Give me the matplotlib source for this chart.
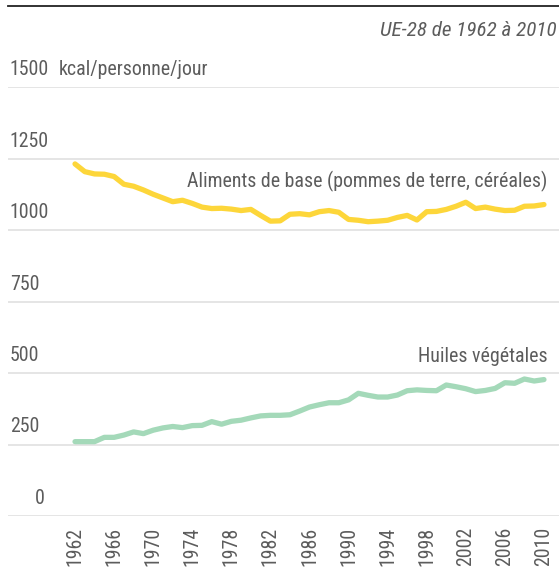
import matplotlib
matplotlib.use("Agg")
import matplotlib.pyplot as plt
import matplotlib.transforms as mtransforms

years = list(range(1962, 2011))
base_foods = [1231, 1204, 1196, 1195, 1187, 1160, 1153, 1140, 1125, 1112,
              1099, 1104, 1093, 1080, 1075, 1076, 1073, 1068, 1072, 1051,
              1031, 1032, 1055, 1057, 1053, 1064, 1068, 1062, 1037, 1034,
              1029, 1031, 1034, 1044, 1051, 1035, 1064, 1065, 1072, 1083,
              1097, 1075, 1080, 1073, 1068, 1069, 1083, 1084, 1089]
veg_oils = [260, 260, 260, 275, 275, 283, 294, 288, 300, 308,
            313, 309, 316, 317, 330, 321, 331, 335, 343, 350,
            352, 352, 354, 367, 381, 389, 396, 396, 406, 429,
            422, 416, 416, 423, 438, 441, 439, 438, 458, 452,
            445, 435, 439, 446, 466, 464, 479, 472, 477]
y_ticks = [0, 250, 500, 750, 1000, 1250, 1500]
x_ticks = list(range(1962, 2011, 4))
unit_label = "kcal/personne/jour"
subtitle = "UE-28 de 1962 à 2010"
label_base = "Aliments de base (pommes de terre, céréales)"
label_oils = "Huiles végétales"

plt.rcParams['font.family'] = ['Roboto Condensed', 'DejaVu Sans']

GRAY = "#5c5c5c"
YELLOW = "#fdd63a"
GREEN = "#a4d9b9"
FS = 14.3

fig = plt.figure(figsize=(5.59, 5.67), dpi=100)
W, H = 559, 567
ax = fig.add_axes([8 / W, (H - 516) / H, 1 - 8 / W, (516 - 87) / H])
ax.set_xlim(1955.14, 2011.54)
ax.set_ylim(0, 1500)
for s in ax.spines.values():
    s.set_visible(False)
ax.set_yticks([])

for v in y_ticks:
    ax.axhline(v, color="#e0e0e0", lw=1.2, zorder=1)

ax.plot(years, base_foods, color=YELLOW, lw=3.8, solid_capstyle="round",
        solid_joinstyle="round", zorder=3, clip_on=False)
ax.plot(years, veg_oils, color=GREEN, lw=3.8, solid_capstyle="round",
        solid_joinstyle="round", zorder=3, clip_on=False)

trans = mtransforms.blended_transform_factory(ax.transAxes, ax.transData)
t = mtransforms.offset_copy(trans, fig=fig, x=0, y=12, units="dots")
for v in y_ticks:
    lab = str(v)
    if v == 0:
        ax.text(0.058, v, lab, transform=t, ha="center", va="baseline",
                fontsize=FS, color=GRAY)
    else:
        ax.text(0.003, v, lab, transform=t, ha="left", va="baseline",
                fontsize=FS, color=GRAY)
ax.text(0.0926, 1500, unit_label, transform=t, ha="left", va="baseline",
        fontsize=FS, color=GRAY)

ax.set_xticks(x_ticks)
ax.set_xticklabels([str(x) for x in x_ticks], rotation=90, fontsize=FS,
                   color=GRAY, va="top", ha="center")
ax.tick_params(axis="x", length=0, pad=8)

ax.text(2010.4, 1150, label_base, ha="right", va="baseline", fontsize=FS,
        color=GRAY)
ax.text(2010.4, 540, label_oils, ha="right", va="baseline", fontsize=FS,
        color=GRAY)

fig.text(557 / W, 1 - 36 / H, subtitle, ha="right", va="baseline",
         fontsize=15.2, color=GRAY, style="italic")
fig.add_artist(plt.Line2D([8 / W, 1.0], [1 - 6 / H, 1 - 6 / H],
                          color="#222222", lw=1.3, transform=fig.transFigure))

fig.savefig("out.png", dpi=100)
